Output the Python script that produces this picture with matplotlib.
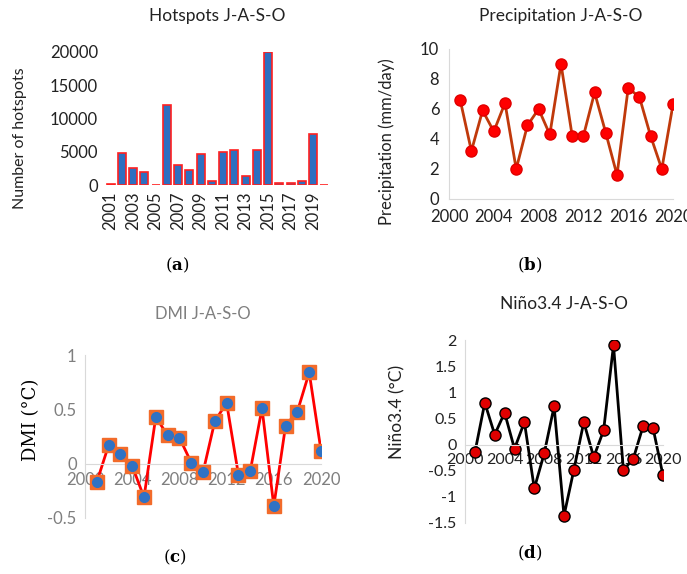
import matplotlib.pyplot as plt

plt.rcParams['font.family'] = ['Lato', 'DejaVu Sans']

years = list(range(2001, 2021))
hotspots = [200, 4800, 2500, 2000, 50, 12100, 3000, 2200, 4700, 600,
            4900, 5300, 1400, 5200, 20000, 250, 250, 600, 7600, 50]
precip = [6.6, 3.2, 5.9, 4.5, 6.4, 2.0, 4.9, 6.0, 4.3, 9.0,
          4.2, 4.2, 7.1, 4.4, 1.6, 7.4, 6.8, 4.2, 2.0, 6.3]
dmi = [-0.17, 0.17, 0.09, -0.02, -0.31, 0.43, 0.26, 0.24, 0.01, -0.08,
       0.39, 0.56, -0.10, -0.07, 0.51, -0.39, 0.35, 0.48, 0.84, 0.12]
nino = [-0.15, 0.80, 0.19, 0.61, -0.08, 0.43, -0.84, -0.17, 0.73, -1.36,
        -0.48, 0.43, -0.24, 0.27, 1.90, -0.49, -0.27, 0.36, 0.31, -0.59]

fig = plt.figure(figsize=(6.87, 5.74), dpi=100)

def fpos(l, r, t, b):
    W, H = 687, 574
    return [l / W, 1 - b / H, (r - l) / W, (b - t) / H]

# (a) hotspots bar chart
ax = fig.add_axes(fpos(105, 330, 52, 185))
ax.bar(range(len(years)), hotspots, width=0.72, color='#2E6FC0',
       edgecolor='#FF2020', linewidth=1.2)
ax.set_xlim(-0.5, len(years) - 0.5)
ax.set_ylim(0, 20000)
ax.set_yticks([0, 5000, 10000, 15000, 20000])
ax.set_xticks(range(0, len(years), 2))
ax.set_xticklabels([str(y) for y in years[::2]], rotation=90)
for s in ax.spines.values():
    s.set_visible(False)
ax.tick_params(length=0, labelsize=12, colors='#222222', pad=5)
ax.set_ylabel('Number of hotspots', fontsize=11.5, color='#222222')
ax.yaxis.set_label_coords(-0.345, 0.35)
ax.set_title('Hotspots J-A-S-O', fontsize=12.5, color='#222222', pad=22)

# (b) precipitation
ax = fig.add_axes(fpos(449, 673, 49, 199))
ax.plot(years, precip, color='#C0390B', linewidth=2, marker='o',
        markersize=8, markerfacecolor='#FF0000', markeredgecolor='#E00000')
ax.set_xlim(2000, 2020)
ax.set_ylim(0, 10)
ax.set_xticks(range(2000, 2021, 4))
ax.set_yticks(range(0, 11, 2))
for k in ['top', 'right']:
    ax.spines[k].set_visible(False)
for k in ['left', 'bottom']:
    ax.spines[k].set_color('#D9D9D9')
ax.tick_params(length=0, labelsize=12, colors='#222222', pad=7)
ax.set_ylabel('Precipitation (mm/day)', fontsize=12, color='#222222')
ax.yaxis.set_label_coords(-0.241, 0.38)
ax.set_title('Precipitation J-A-S-O', fontsize=12.5, color='#222222', pad=20)

# (c) DMI
ax = fig.add_axes(fpos(85, 321, 355, 518))
ax.plot(years, dmi, color='#FF0000', linewidth=2, zorder=2)
ax.plot(years, dmi, linestyle='none', marker='s', markersize=10.5,
        color='#F26B2A', zorder=3)
ax.plot(years, dmi, linestyle='none', marker='o', markersize=7,
        color='#2F72C4', zorder=4)
ax.set_xlim(2000, 2020)
ax.set_ylim(-0.5, 1)
ax.set_xticks(range(2000, 2021, 4))
ax.set_yticks([-0.5, 0, 0.5, 1])
ax.set_yticklabels(['-0.5', '0', '0.5', '1'])
for k in ['top', 'right']:
    ax.spines[k].set_visible(False)
for k in ['left', 'bottom']:
    ax.spines[k].set_color('#D9D9D9')
ax.spines['bottom'].set_position(('data', 0))
ax.tick_params(length=0, labelsize=12, colors='#7F7F7F', pad=6)
ax.set_ylabel('DMI (°C)', fontsize=13, family='DejaVu Serif', color='black')
ax.yaxis.set_label_coords(-0.19, 0.60)
ax.set_title('DMI J-A-S-O', fontsize=12, color='#7F7F7F', pad=26)

# (d) Nino3.4
ax = fig.add_axes(fpos(465, 663, 340, 523))
ax.plot(years, nino, color='black', linewidth=2, marker='o', markersize=8,
        markerfacecolor='#E00000', markeredgecolor='black', markeredgewidth=1)
ax.set_xlim(2000, 2020)
ax.set_ylim(-1.5, 2)
ax.set_xticks(range(2000, 2021, 4))
ax.set_yticks([-1.5, -1, -0.5, 0, 0.5, 1, 1.5, 2])
ax.set_yticklabels(['-1.5', '-1', '-0.5', '0', '0.5', '1', '1.5', '2'])
for k in ['top', 'right']:
    ax.spines[k].set_visible(False)
for k in ['left', 'bottom']:
    ax.spines[k].set_color('#D9D9D9')
ax.spines['bottom'].set_position(('data', 0))
ax.tick_params(length=0, labelsize=11.5, colors='#222222', pad=6)
ax.set_ylabel('Niño3.4 (°C)', fontsize=12.5, color='#222222')
ax.yaxis.set_label_coords(-0.303, 0.607)
ax.set_title('Niño3.4 J-A-S-O', fontsize=12.5, color='#222222', pad=22)

# captions
plt.rcParams['mathtext.fontset'] = 'dejavuserif'
for x, y, lab in [(177, 265, 'a'), (530, 265, 'b'), (175, 557, 'c'), (530, 553, 'd')]:
    fig.text(x / 687, 1 - y / 574, '(' + r'$\mathbf{' + lab + '}$' + ')',
             ha='center', va='center', fontsize=12, family='DejaVu Serif')

fig.savefig('out.png', dpi=100)
